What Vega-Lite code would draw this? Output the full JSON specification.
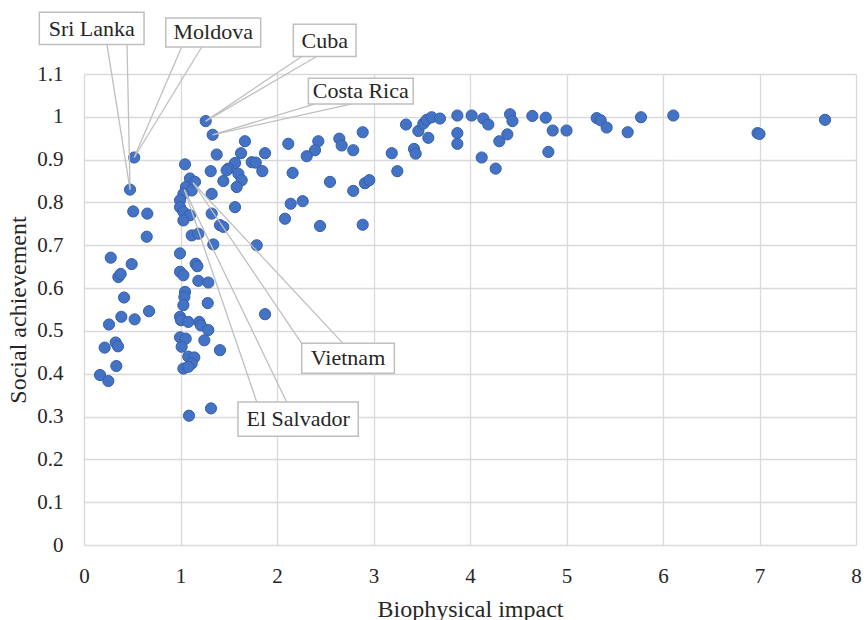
{
  "$schema": "https://vega.github.io/schema/vega-lite/v6.json",
  "width": 772,
  "height": 471,
  "autosize": {"type": "none"},
  "padding": {"left": 84, "top": 74, "right": 11, "bottom": 75},
  "background": "white",
  "config": {
    "view": {"stroke": null},
    "axis": {
      "domain": false,
      "ticks": false,
      "tickSize": 0,
      "grid": true,
      "gridColor": "#d9d9d9",
      "gridWidth": 1.3,
      "labelFont": "Liberation Serif",
      "labelFontSize": 21,
      "labelColor": "#262626",
      "titleFont": "Liberation Serif",
      "titleFontSize": 24,
      "titleFontWeight": "normal",
      "titleColor": "#262626"
    }
  },
  "datasets": {
    "points": [
      {"impact": 0.52, "social": 0.905}, {"impact": 0.477, "social": 0.83}, {"impact": 0.51, "social": 0.779},
      {"impact": 0.656, "social": 0.774}, {"impact": 0.65, "social": 0.72}, {"impact": 0.277, "social": 0.671},
      {"impact": 0.494, "social": 0.656}, {"impact": 0.356, "social": 0.626}, {"impact": 0.38, "social": 0.633},
      {"impact": 0.415, "social": 0.578}, {"impact": 0.387, "social": 0.533}, {"impact": 0.525, "social": 0.527},
      {"impact": 0.674, "social": 0.546}, {"impact": 0.259, "social": 0.515}, {"impact": 0.214, "social": 0.461},
      {"impact": 0.328, "social": 0.473}, {"impact": 0.352, "social": 0.464}, {"impact": 0.335, "social": 0.418},
      {"impact": 0.166, "social": 0.397}, {"impact": 0.252, "social": 0.383},
      {"impact": 1.261, "social": 0.99}, {"impact": 1.333, "social": 0.958}, {"impact": 1.668, "social": 0.943},
      {"impact": 1.876, "social": 0.915}, {"impact": 1.375, "social": 0.912}, {"impact": 1.627, "social": 0.915},
      {"impact": 1.565, "social": 0.892}, {"impact": 1.496, "social": 0.879}, {"impact": 1.738, "social": 0.894},
      {"impact": 1.78, "social": 0.893}, {"impact": 1.848, "social": 0.873}, {"impact": 1.6, "social": 0.867},
      {"impact": 1.634, "social": 0.852}, {"impact": 1.444, "social": 0.85}, {"impact": 1.582, "social": 0.836},
      {"impact": 1.478, "social": 0.875}, {"impact": 1.047, "social": 0.889}, {"impact": 1.313, "social": 0.873},
      {"impact": 1.098, "social": 0.856}, {"impact": 1.15, "social": 0.848}, {"impact": 1.057, "social": 0.836},
      {"impact": 1.116, "social": 0.828}, {"impact": 1.03, "social": 0.82}, {"impact": 0.995, "social": 0.805},
      {"impact": 0.995, "social": 0.789}, {"impact": 1.03, "social": 0.778}, {"impact": 1.098, "social": 0.77},
      {"impact": 1.03, "social": 0.758}, {"impact": 1.116, "social": 0.723}, {"impact": 1.185, "social": 0.727},
      {"impact": 1.323, "social": 0.82}, {"impact": 1.323, "social": 0.774}, {"impact": 1.565, "social": 0.789},
      {"impact": 1.409, "social": 0.747}, {"impact": 1.444, "social": 0.743}, {"impact": 1.34, "social": 0.702},
      {"impact": 1.79, "social": 0.7},
      {"impact": 0.995, "social": 0.681}, {"impact": 1.157, "social": 0.657}, {"impact": 1.175, "social": 0.651},
      {"impact": 0.995, "social": 0.638}, {"impact": 1.03, "social": 0.63}, {"impact": 1.185, "social": 0.617},
      {"impact": 1.288, "social": 0.613}, {"impact": 1.047, "social": 0.591}, {"impact": 1.04, "social": 0.579},
      {"impact": 1.282, "social": 0.565}, {"impact": 1.03, "social": 0.56}, {"impact": 1.876, "social": 0.539},
      {"impact": 0.995, "social": 0.533}, {"impact": 1.005, "social": 0.525}, {"impact": 1.08, "social": 0.521},
      {"impact": 1.195, "social": 0.521}, {"impact": 1.21, "social": 0.513}, {"impact": 1.288, "social": 0.502},
      {"impact": 1.247, "social": 0.478}, {"impact": 0.995, "social": 0.485}, {"impact": 1.054, "social": 0.482},
      {"impact": 1.012, "social": 0.463}, {"impact": 1.409, "social": 0.455}, {"impact": 1.08, "social": 0.44},
      {"impact": 1.143, "social": 0.438}, {"impact": 1.116, "social": 0.424}, {"impact": 1.03, "social": 0.412},
      {"impact": 1.08, "social": 0.416}, {"impact": 1.088, "social": 0.302}, {"impact": 1.316, "social": 0.319},
      {"impact": 2.117, "social": 0.937}, {"impact": 2.428, "social": 0.943}, {"impact": 2.394, "social": 0.922},
      {"impact": 2.308, "social": 0.908}, {"impact": 2.646, "social": 0.949}, {"impact": 2.67, "social": 0.933},
      {"impact": 2.79, "social": 0.922}, {"impact": 2.888, "social": 0.964}, {"impact": 2.162, "social": 0.869},
      {"impact": 2.549, "social": 0.848}, {"impact": 2.79, "social": 0.827}, {"impact": 2.912, "social": 0.845},
      {"impact": 2.957, "social": 0.852}, {"impact": 2.142, "social": 0.797}, {"impact": 2.266, "social": 0.803},
      {"impact": 2.083, "social": 0.762}, {"impact": 2.446, "social": 0.745}, {"impact": 2.888, "social": 0.748},
      {"impact": 3.189, "social": 0.915}, {"impact": 3.247, "social": 0.873}, {"impact": 3.337, "social": 0.982},
      {"impact": 3.42, "social": 0.925}, {"impact": 3.437, "social": 0.914}, {"impact": 3.465, "social": 0.967},
      {"impact": 3.516, "social": 0.984}, {"impact": 3.551, "social": 0.993}, {"impact": 3.603, "social": 0.999},
      {"impact": 3.689, "social": 0.996}, {"impact": 3.568, "social": 0.951}, {"impact": 3.869, "social": 1.003},
      {"impact": 3.869, "social": 0.962}, {"impact": 3.869, "social": 0.937}, {"impact": 4.017, "social": 1.003},
      {"impact": 4.138, "social": 0.996}, {"impact": 4.19, "social": 0.982}, {"impact": 4.121, "social": 0.905},
      {"impact": 4.266, "social": 0.879}, {"impact": 4.304, "social": 0.943}, {"impact": 4.387, "social": 0.959},
      {"impact": 4.415, "social": 1.006}, {"impact": 4.44, "social": 0.99}, {"impact": 4.646, "social": 1.002},
      {"impact": 4.785, "social": 0.998}, {"impact": 4.857, "social": 0.968}, {"impact": 4.812, "social": 0.918},
      {"impact": 5.0, "social": 0.968}, {"impact": 5.313, "social": 0.997}, {"impact": 5.354, "social": 0.992},
      {"impact": 5.416, "social": 0.975}, {"impact": 5.634, "social": 0.964}, {"impact": 5.772, "social": 0.999},
      {"impact": 6.107, "social": 1.003}, {"impact": 6.98, "social": 0.962}, {"impact": 7.0, "social": 0.96},
      {"impact": 7.679, "social": 0.993}
    ],
    "callouts": [
      {"label": "Sri Lanka", "tx": 0.08, "ty": 1.206, "bx0": -0.463, "bx1": 0.622, "by0": 1.169, "by1": 1.244},
      {"label": "Moldova", "tx": 1.339, "ty": 1.197, "bx0": 0.847, "bx1": 1.831, "by0": 1.163, "by1": 1.231},
      {"label": "Cuba", "tx": 2.494, "ty": 1.178, "bx0": 2.169, "bx1": 2.819, "by0": 1.141, "by1": 1.216},
      {"label": "Costa Rica", "tx": 2.868, "ty": 1.06, "bx0": 2.325, "bx1": 3.412, "by0": 1.03, "by1": 1.09},
      {"label": "Vietnam", "tx": 2.736, "ty": 0.436, "bx0": 2.256, "bx1": 3.216, "by0": 0.401, "by1": 0.471},
      {"label": "El Salvador", "tx": 2.219, "ty": 0.294, "bx0": 1.596, "bx1": 2.842, "by0": 0.254, "by1": 0.334}
    ],
    "leaders": [
      {"label": "Sri Lanka", "x0": 0.238, "y0": 1.169, "x1": 0.477, "y1": 0.83},
      {"label": "Sri Lanka", "x0": 0.446, "y0": 1.169, "x1": 0.477, "y1": 0.83},
      {"label": "Moldova", "x0": 1.012, "y0": 1.163, "x1": 0.52, "y1": 0.905},
      {"label": "Moldova", "x0": 1.22, "y0": 1.163, "x1": 0.52, "y1": 0.905},
      {"label": "Cuba", "x0": 2.256, "y0": 1.141, "x1": 1.261, "y1": 0.99},
      {"label": "Cuba", "x0": 2.411, "y0": 1.141, "x1": 1.261, "y1": 0.99},
      {"label": "Costa Rica", "x0": 2.394, "y0": 1.03, "x1": 1.333, "y1": 0.958},
      {"label": "Costa Rica", "x0": 2.777, "y0": 1.03, "x1": 1.333, "y1": 0.958},
      {"label": "Vietnam", "x0": 2.256, "y0": 0.471, "x1": 1.13, "y1": 0.846},
      {"label": "Vietnam", "x0": 2.684, "y0": 0.471, "x1": 1.13, "y1": 0.846},
      {"label": "El Salvador", "x0": 1.79, "y0": 0.334, "x1": 1.04, "y1": 0.83},
      {"label": "El Salvador", "x0": 2.1, "y0": 0.334, "x1": 1.04, "y1": 0.83}
    ]
  },
  "layer": [
    {
      "data": {"name": "points"},
      "mark": {"type": "circle", "size": 125, "fill": "#4472C4", "stroke": "#3560AB", "strokeWidth": 1, "opacity": 1},
      "encoding": {
        "x": {
          "field": "impact", "type": "quantitative", "title": "Biophysical impact",
          "scale": {"domain": [0, 8], "nice": false, "zero": true},
          "axis": {"values": [0, 1, 2, 3, 4, 5, 6, 7, 8], "format": "d", "labelPadding": 20, "titlePadding": 11, "labelFlush": false}
        },
        "y": {
          "field": "social", "type": "quantitative", "title": "Social achievement",
          "scale": {"domain": [0, 1.1], "nice": false, "zero": true},
          "axis": {"values": [0, 0.1, 0.2, 0.3, 0.4, 0.5, 0.6, 0.7, 0.8, 0.9, 1, 1.1], "format": "~g", "labelPadding": 21, "titlePadding": 6, "labelFlush": false}
        }
      }
    },
    {
      "data": {"name": "leaders"},
      "mark": {"type": "rule", "color": "#bfbfbf", "strokeWidth": 1.3},
      "encoding": {
        "x": {"field": "x0", "type": "quantitative", "title": "Biophysical impact"},
        "y": {"field": "y0", "type": "quantitative", "title": "Social achievement"},
        "x2": {"field": "x1"},
        "y2": {"field": "y1"}
      }
    },
    {
      "data": {"name": "callouts"},
      "mark": {"type": "rect", "fill": "white", "stroke": "#bfbfbf", "strokeWidth": 1.5},
      "encoding": {
        "x": {"field": "bx0", "type": "quantitative", "title": "Biophysical impact"},
        "x2": {"field": "bx1"},
        "y": {"field": "by0", "type": "quantitative", "title": "Social achievement"},
        "y2": {"field": "by1"}
      }
    },
    {
      "data": {"name": "callouts"},
      "mark": {"type": "text", "font": "Liberation Serif", "fontSize": 22, "color": "#262626", "baseline": "middle", "align": "center"},
      "encoding": {
        "x": {"field": "tx", "type": "quantitative", "title": "Biophysical impact"},
        "y": {"field": "ty", "type": "quantitative", "title": "Social achievement"},
        "text": {"field": "label"}
      }
    }
  ]
}
